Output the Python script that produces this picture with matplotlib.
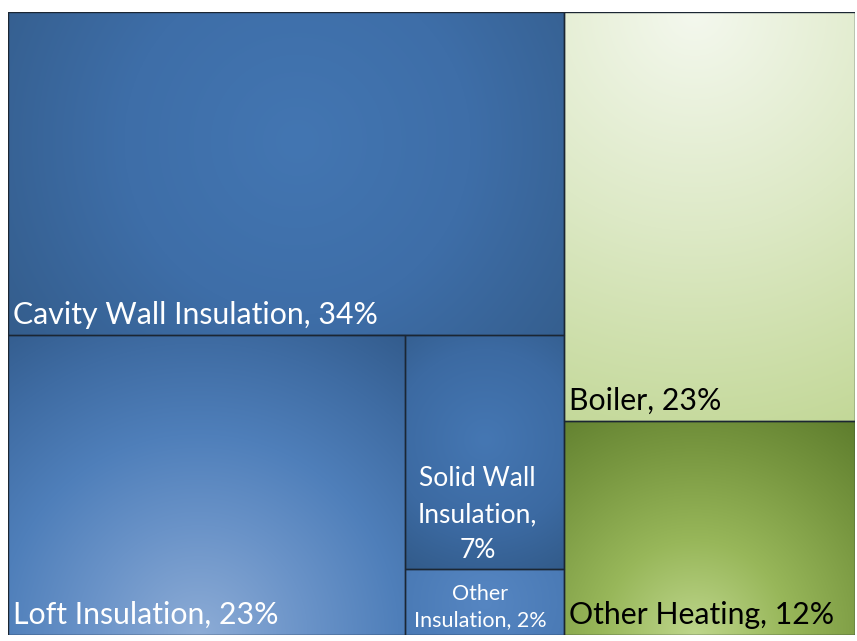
import numpy as np
import matplotlib.pyplot as plt
from matplotlib.colors import to_rgb
from matplotlib.patches import Rectangle

# Treemap data (share of measures, %)
insulation_names = ['Cavity Wall Insulation', 'Loft Insulation', 'Solid Wall Insulation', 'Other Insulation']
insulation_values = [34.1, 22.6, 7.1, 2.0]
heating_names = ['Boiler', 'Other Heating']
heating_values = [22.6, 11.8]

# tile gradient styles: centre (x, y as tile fractions) and colour stops from centre to corner
styles = {
    'Cavity Wall Insulation': ((0.52, 0.40), [(0, '#4376b2'), (0.5, '#3e6ea8'), (1, '#345d8c')]),
    'Loft Insulation': ((0.48, 1.00), [(0, '#8dacd6'), (0.3, '#6a93c8'), (0.55, '#4f7fba'),
                                       (0.8, '#3f6ca3'), (1, '#335c8d')]),
    'Solid Wall Insulation': ((0.50, 0.45), [(0, '#4577b3'), (0.6, '#3c6aa2'), (1, '#325b8a')]),
    'Other Insulation': ((0.50, 0.50), [(0, '#5686c2'), (1, '#4a7ab5')]),
    'Boiler': ((0.45, 0.00), [(0, '#f4f8ee'), (0.5, '#dde9c6'), (1, '#c3d898')]),
    'Other Heating': ((0.45, 1.00), [(0, '#bed68c'), (0.35, '#98b75a'), (0.7, '#789740'),
                                     (1, '#5e7d2d')]),
}


def split(x, y, w, h, values, horizontal):
    total = sum(values)
    rects = []
    for v in values:
        f = v / total
        if horizontal:
            rects.append((x, y, w * f, h))
            x += w * f
        else:
            rects.append((x, y, w, h * f))
            y += h * f
    return rects


def layout():
    groups = split(0, 0, 1, 1, [sum(insulation_values), sum(heating_values)], True)
    gx, gy, gw, gh = groups[0]
    cav, rest = split(gx, gy, gw, gh, [insulation_values[0], sum(insulation_values[1:])], False)
    loft, col = split(*rest, [insulation_values[1], sum(insulation_values[2:])], True)
    solid, other = split(*col, insulation_values[2:], False)
    boiler, oheat = split(*groups[1], heating_values, False)
    return dict(zip(insulation_names + heating_names, [cav, loft, solid, other, boiler, oheat])), \
        dict(zip(insulation_names + heating_names, insulation_values + heating_values))


rects, values = layout()

fig = plt.figure(figsize=(8.57, 6.41), dpi=100)
ax = fig.add_axes([8 / 857, 6 / 641, 847 / 857, 623 / 641])
ax.set_xlim(0, 1)
ax.set_ylim(1, 0)
ax.axis('off')

W_PX, H_PX = 847, 623
for name, (x, y, w, h) in rects.items():
    (cx, cy), stops = styles[name]
    xs = (np.linspace(0, 1, 200) - cx) * w * W_PX
    ys = (np.linspace(0, 1, 200) - cy) * h * H_PX
    X, Y = np.meshgrid(xs, ys)
    rad = max(np.hypot(max(cx, 1 - cx) * w * W_PX, max(cy, 1 - cy) * h * H_PX), 1)
    t = np.clip(np.hypot(X, Y) / rad, 0, 1)
    pos = [s[0] for s in stops]
    cols = np.array([to_rgb(s[1]) for s in stops])
    img = np.stack([np.interp(t, pos, cols[:, k]) for k in range(3)], axis=-1)
    ax.imshow(img, extent=(x, x + w, y + h, y), origin='upper', aspect='auto',
              interpolation='bilinear', zorder=1)
    ax.add_patch(Rectangle((x, y), w, h, fill=False, edgecolor='#1b2633', lw=1.0, zorder=2))

font = 'Lato'
for name, (x, y, w, h) in rects.items():
    color = 'black' if name in heating_names else 'white'
    pct = f"{values[name]:.0f}%"
    if name == 'Solid Wall Insulation':
        ax.annotate(f"Solid Wall\nInsulation,\n{pct}", (x + w / 2, y + h), xytext=(-5, 8),
                    textcoords='offset points', ha='center', va='baseline', color=color,
                    fontsize=19, family=font, linespacing=1.55, zorder=3)
    elif name == 'Other Insulation':
        ax.annotate(f"Other\nInsulation, {pct}", (x + w / 2, y + h), xytext=(-3, 6.5),
                    textcoords='offset points', ha='center', va='baseline', color=color,
                    fontsize=15.5, family=font, linespacing=1.4, zorder=3)
    else:
        ax.annotate(f"{name}, {pct}", (x, y + h), xytext=(3.5, 8),
                    textcoords='offset points', ha='left', va='baseline', color=color,
                    fontsize=21.8, family=font, zorder=3)

fig.savefig('out.png', dpi=100)
